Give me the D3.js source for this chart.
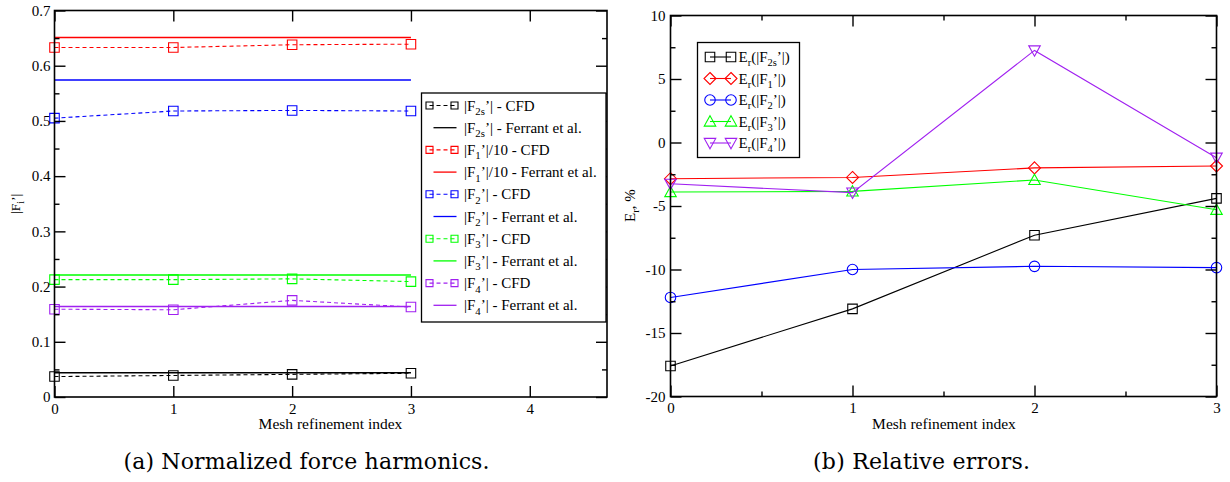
<!DOCTYPE html>
<meta charset="utf-8">
<style>
body { margin: 0; background: #fff; }
svg { display: block; }
</style>
<body>
<svg width="1230" height="482" font-family="Liberation Serif"></svg>
</body>
<script src="https://d3js.org/d3.v7.min.js"></script>
<script>

// ---- data ----
var meshIndex = [0, 1, 2, 3];

// (a) normalized force harmonics, CFD
var cfdF2s = [0.037, 0.039, 0.041, 0.043];
var cfdF1  = [0.633, 0.633, 0.638, 0.639];   // |F1'|/10
var cfdF2  = [0.505, 0.518, 0.519, 0.518];
var cfdF3  = [0.2125, 0.2125, 0.214, 0.209];
var cfdF4  = [0.159, 0.158, 0.175, 0.163];

// (a) Ferrant et al. reference values
var ferrantF2s = 0.044;
var ferrantF1  = 0.651;
var ferrantF2  = 0.574;
var ferrantF3  = 0.221;
var ferrantF4  = 0.164;

// (b) relative errors, %
var errF2s = [-17.6, -13.1, -7.3, -4.4];
var errF1  = [-2.85, -2.75, -2.0, -1.85];
var errF2  = [-12.2, -10.0, -9.75, -9.85];
var errF3  = [-3.9, -3.85, -2.95, -5.3];
var errF4  = [-3.25, -3.95, 7.25, -1.2];

var leftYTicks = [0, 0.1, 0.2, 0.3, 0.4, 0.5, 0.6, 0.7];
var leftXTicks = [0, 1, 2, 3, 4];
var rightYTicks = [-20, -15, -10, -5, 0, 5, 10];
var rightXTicks = [0, 1, 2, 3];

var colors = {k: "#000000", r: "#ff0000", b: "#0000ff", g: "#00ff00", v: "#a020f0"};
var FONT = "Liberation Serif";
var CAPTION_FONT = "DejaVu Serif";

var svg = d3.select("svg");

// symbol paths centred on 0,0
function markerPath(type, s) {
  var h = s / 2;
  if (type === "square") return "M" + (-h) + "," + (-h) + "h" + s + "v" + s + "h" + (-s) + "Z";
  if (type === "diamond") return "M0," + (-h) + "L" + h + ",0L0," + h + "L" + (-h) + ",0Z";
  if (type === "circle") return "M" + (-h) + ",0a" + h + "," + h + " 0 1,0 " + s + ",0a" + h + "," + h + " 0 1,0 " + (-s) + ",0";
  if (type === "up") return "M0," + (-h) + "L" + h + "," + (h * 0.8) + "L" + (-h) + "," + (h * 0.8) + "Z";
  if (type === "down") return "M0," + h + "L" + h + "," + (-h * 0.8) + "L" + (-h) + "," + (-h * 0.8) + "Z";
}

// grace-like frame with inward ticks on all four sides
function frame(g, x, y, w, h, xMajor, xMinor, yMajor, yMinor, yFmt, yPad) {
  function style(sel) {
    sel.select(".domain").remove();
    sel.selectAll("line").attr("stroke", "#000").attr("stroke-width", 1.4);
    sel.attr("font-family", FONT).attr("font-size", 15);
    sel.selectAll("text").attr("fill", "#000").attr("font-family", FONT);
  }
  g.append("g").attr("transform", "translate(0," + h + ")")
    .call(d3.axisBottom(x).tickValues(xMajor).tickSize(-11).tickSizeOuter(0).tickPadding(6).tickFormat(d3.format("d")))
    .call(style);
  g.append("g")
    .call(d3.axisTop(x).tickValues(xMajor).tickSize(-11).tickSizeOuter(0).tickFormat(""))
    .call(style);
  g.append("g")
    .call(d3.axisLeft(y).tickValues(yMajor).tickSize(-11).tickSizeOuter(0).tickPadding(yPad).tickFormat(yFmt))
    .call(style);
  g.append("g").attr("transform", "translate(" + w + ",0)")
    .call(d3.axisRight(y).tickValues(yMajor).tickSize(-11).tickSizeOuter(0).tickFormat(""))
    .call(style);
  if (xMinor) {
    g.append("g").attr("transform", "translate(0," + h + ")")
      .call(d3.axisBottom(x).tickValues(xMinor).tickSize(-5).tickSizeOuter(0).tickFormat("")).call(style);
    g.append("g")
      .call(d3.axisTop(x).tickValues(xMinor).tickSize(-5).tickSizeOuter(0).tickFormat("")).call(style);
  }
  g.append("g")
    .call(d3.axisLeft(y).tickValues(yMinor).tickSize(-5).tickSizeOuter(0).tickFormat("")).call(style);
  g.append("g").attr("transform", "translate(" + w + ",0)")
    .call(d3.axisRight(y).tickValues(yMinor).tickSize(-5).tickSizeOuter(0).tickFormat("")).call(style);
  g.append("rect").attr("width", w).attr("height", h)
    .attr("fill", "none").attr("stroke", "#000").attr("stroke-width", 1.6);
}

// label with subscript + prime, e.g. |F_2s'|
function richLabel(sel, pre, sub, post, size) {
  sel.attr("font-size", size).attr("font-family", FONT);
  sel.append("tspan").text(pre);
  sel.append("tspan").attr("dy", size * 0.3).attr("font-size", size * 0.72).text(sub);
  sel.append("tspan").attr("dy", -size * 0.3).text(post);
}

// ================= (a) =================
var mA = {left: 54.5, top: 10.5, right: 607, bottom: 397};
var wA = mA.right - mA.left, hA = mA.bottom - mA.top;
var xA = d3.scaleLinear().domain([0, 4.65]).range([0, wA]);
var yA = d3.scaleLinear().domain([0, 0.7]).range([hA, 0]);
var gA = svg.append("g").attr("transform", "translate(" + mA.left + "," + mA.top + ")");

var lineA = d3.line().x(function(d) { return xA(d[0]); }).y(function(d) { return yA(d[1]); });

var setsA = [
  {cfd: cfdF2s, ref: ferrantF2s, c: colors.k, pre: "|F", sub: "2s", post: "’|"},
  {cfd: cfdF1,  ref: ferrantF1,  c: colors.r, pre: "|F", sub: "1",  post: "’|/10"},
  {cfd: cfdF2,  ref: ferrantF2,  c: colors.b, pre: "|F", sub: "2",  post: "’|"},
  {cfd: cfdF3,  ref: ferrantF3,  c: colors.g, pre: "|F", sub: "3",  post: "’|"},
  {cfd: cfdF4,  ref: ferrantF4,  c: colors.v, pre: "|F", sub: "4",  post: "’|"}
];

setsA.forEach(function(s) {
  var pts = meshIndex.map(function(i, k) { return [i, s.cfd[k]]; });
  gA.append("path").datum(pts).attr("d", lineA)
    .attr("fill", "none").attr("stroke", s.c).attr("stroke-width", 1.1).attr("stroke-dasharray", "4,3");
  gA.selectAll(null).data(pts).enter().append("path")
    .attr("transform", function(d) { return "translate(" + xA(d[0]) + "," + yA(d[1]) + ")"; })
    .attr("d", markerPath("square", 9.5))
    .attr("fill", "none").attr("stroke", s.c).attr("stroke-width", 1.1);
  var ref = [[meshIndex[0], s.ref], [meshIndex[meshIndex.length - 1], s.ref]];
  gA.append("path").datum(ref).attr("d", lineA)
    .attr("fill", "none").attr("stroke", s.c).attr("stroke-width", 1.4);
});

frame(gA, xA, yA, wA, hA, leftXTicks, null, leftYTicks,
  d3.range(0.05, 0.7, 0.1),
  function(d) { return d === 0 ? "0" : d3.format(".1f")(d); }, 4);

// legend (a)
var legA = gA.append("g").attr("transform", "translate(" + (421.5 - mA.left) + "," + (93 - mA.top) + ")");
legA.append("rect").attr("width", 184.5).attr("height", 229)
  .attr("fill", "#fff").attr("stroke", "#000").attr("stroke-width", 1.3);
setsA.forEach(function(s, i) {
  var yc1 = 12.5 + (2 * i) * 22.2, yc2 = yc1 + 22.2;
  legA.append("line").attr("x1", 8).attr("x2", 33).attr("y1", yc1).attr("y2", yc1)
    .attr("stroke", s.c).attr("stroke-width", 1.1).attr("stroke-dasharray", "4,3");
  [8, 33].forEach(function(px) {
    legA.append("path").attr("transform", "translate(" + px + "," + yc1 + ")")
      .attr("d", markerPath("square", 7)).attr("fill", "none").attr("stroke", s.c).attr("stroke-width", 1.1);
  });
  legA.append("line").attr("x1", 12).attr("x2", 35).attr("y1", yc2).attr("y2", yc2)
    .attr("stroke", s.c).attr("stroke-width", 1.3);
  richLabel(legA.append("text").attr("x", 42.5).attr("y", yc1 + 5), s.pre, s.sub, s.post + " - CFD", 15);
  richLabel(legA.append("text").attr("x", 42.5).attr("y", yc2 + 5), s.pre, s.sub, s.post + " - Ferrant et al.", 15);
});

// axis labels (a)
richLabel(svg.append("text").attr("transform", "translate(20,214) rotate(-90)"), "|F", "i", "’|", 13.5);
svg.append("text").attr("x", 330.5).attr("y", 429).attr("text-anchor", "middle")
  .attr("font-family", FONT).attr("font-size", 15.5)
  .text("Mesh refinement index");
svg.append("text").attr("x", 306.5).attr("y", 469).attr("text-anchor", "middle")
  .attr("font-family", CAPTION_FONT).attr("font-size", 22)
  .attr("textLength", 366).attr("lengthAdjust", "spacing")
  .text("(a) Normalized force harmonics.");

// ================= (b) =================
var mB = {left: 670.5, top: 15.5, right: 1216.5, bottom: 396.5};
var wB = mB.right - mB.left, hB = mB.bottom - mB.top;
var xB = d3.scaleLinear().domain([0, 3]).range([0, wB]);
var yB = d3.scaleLinear().domain([-20, 10]).range([hB, 0]);
var gB = svg.append("g").attr("transform", "translate(" + mB.left + "," + mB.top + ")");

var lineB = d3.line().x(function(d) { return xB(d[0]); }).y(function(d) { return yB(d[1]); });

var setsB = [
  {v: errF2s, c: colors.k, m: "square",  s: 9.5, sub: "2s"},
  {v: errF1,  c: colors.r, m: "diamond", s: 12,  sub: "1"},
  {v: errF2,  c: colors.b, m: "circle",  s: 10.5, sub: "2"},
  {v: errF3,  c: colors.g, m: "up",      s: 11.5, sub: "3"},
  {v: errF4,  c: colors.v, m: "down",    s: 11.5, sub: "4"}
];

setsB.forEach(function(s) {
  var pts = meshIndex.map(function(i, k) { return [i, s.v[k]]; });
  gB.append("path").datum(pts).attr("d", lineB)
    .attr("fill", "none").attr("stroke", s.c).attr("stroke-width", 1.1);
  gB.selectAll(null).data(pts).enter().append("path")
    .attr("transform", function(d) { return "translate(" + xB(d[0]) + "," + yB(d[1]) + ")"; })
    .attr("d", markerPath(s.m, s.s))
    .attr("fill", "none").attr("stroke", s.c).attr("stroke-width", 1.1);
});

frame(gB, xB, yB, wB, hB, rightXTicks, [0.5, 1.5, 2.5], rightYTicks,
  d3.range(-17.5, 10, 5), function(d) { return String(d); }, 5);

// legend (b)
var legB = gB.append("g").attr("transform", "translate(" + (697.5 - mB.left) + "," + (42.5 - mB.top) + ")");
legB.append("rect").attr("width", 102).attr("height", 115)
  .attr("fill", "#fff").attr("stroke", "#000").attr("stroke-width", 1.3);
setsB.forEach(function(s, i) {
  var yc = 14.5 + i * 21.5;
  legB.append("line").attr("x1", 12.5).attr("x2", 33.5).attr("y1", yc).attr("y2", yc)
    .attr("stroke", s.c).attr("stroke-width", 1.1);
  [12.5, 33.5].forEach(function(px) {
    legB.append("path").attr("transform", "translate(" + px + "," + yc + ")")
      .attr("d", markerPath(s.m, s.s)).attr("fill", "none").attr("stroke", s.c).attr("stroke-width", 1.1);
  });
  var t = legB.append("text").attr("x", 41).attr("y", yc + 5)
    .attr("font-family", FONT).attr("font-size", 15);
  t.append("tspan").text("E");
  t.append("tspan").attr("dy", 4).attr("font-size", 10.5).text("r");
  t.append("tspan").attr("dy", -4).text("(|F");
  t.append("tspan").attr("dy", 4).attr("font-size", 10.5).text(s.sub);
  t.append("tspan").attr("dy", -4).text("’|)");
});

// axis labels (b)
var ty = svg.append("text").attr("transform", "translate(635,222) rotate(-90)")
  .attr("font-family", FONT).attr("font-size", 15);
ty.append("tspan").text("E");
ty.append("tspan").attr("dy", 4).attr("font-size", 10.5).text("r");
ty.append("tspan").attr("dy", -4).text(", %");
svg.append("text").attr("x", 944).attr("y", 429).attr("text-anchor", "middle")
  .attr("font-family", FONT).attr("font-size", 15.5)
  .text("Mesh refinement index");
svg.append("text").attr("x", 921.5).attr("y", 469).attr("text-anchor", "middle")
  .attr("font-family", CAPTION_FONT).attr("font-size", 22)
  .attr("textLength", 217).attr("lengthAdjust", "spacing")
  .text("(b) Relative errors.");

</script>
